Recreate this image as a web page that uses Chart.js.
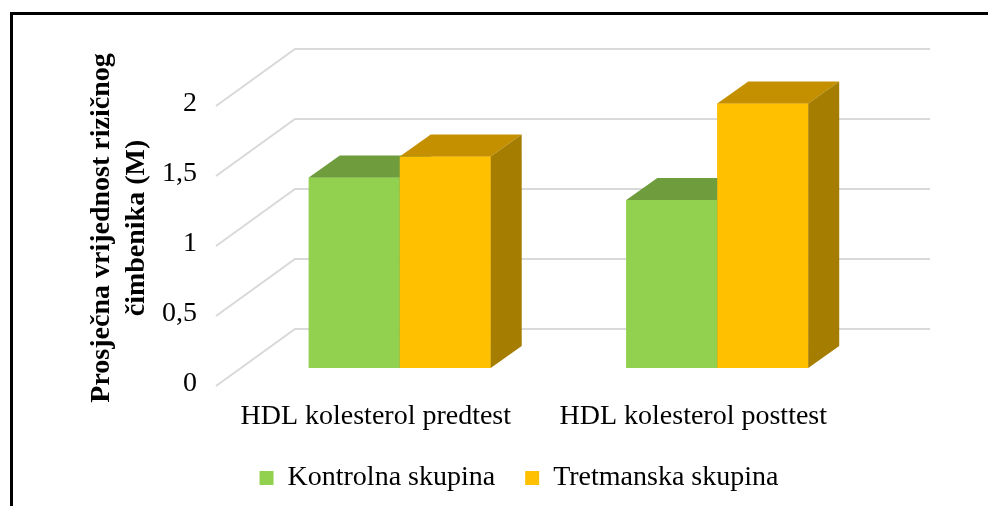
<!DOCTYPE html>
<html>
<head>
<meta charset="utf-8">
<script src="https://cdn.jsdelivr.net/npm/chart.js@4.4.0/dist/chart.umd.min.js"></script>
<style>
  html, body { margin: 0; padding: 0; background: #fff; }
  #wrap { position: relative; width: 988px; height: 506px; overflow: hidden; }
  #frame { position: absolute; left: 10px; top: 12px; width: 1100px; height: 600px;
           border-left: 3px solid #000; border-top: 3px solid #000; }
  #chart { position: absolute; left: 0; top: 0; }
</style>
</head>
<body>
<div id="wrap">
  <canvas id="chart" width="988" height="506"></canvas>
  <div id="frame"></div>
</div>
<script>
const categories = ['HDL kolesterol predtest', 'HDL kolesterol posttest'];
const kontrolna = [1.36, 1.20];
const tretmanska = [1.51, 1.89];
const seriesNames = ['Kontrolna skupina', 'Tretmanska skupina'];
const yTicks = [0, 0.5, 1, 1.5, 2];
const yTitle = ['Prosječna vrijednost rizičnog', 'čimbenika (M)'];

const serif = '"Liberation Serif", "Times New Roman", serif';

// oblique 3D offsets (px): bar depth, floor front edge, back wall
const depth = { barX: 31, barY: -22, frontX: -25, frontY: 18, backX: 54, backY: -39 };

function fillPoly(ctx, pts, color) {
  ctx.beginPath();
  ctx.moveTo(pts[0][0], pts[0][1]);
  for (let i = 1; i < pts.length; i++) ctx.lineTo(pts[i][0], pts[i][1]);
  ctx.closePath();
  ctx.fillStyle = color;
  ctx.fill();
}

// side wall + back wall grid lines
const wallsPlugin = {
  id: 'walls',
  beforeDatasetsDraw(chart) {
    const { ctx, chartArea, scales: { y } } = chart;
    ctx.save();
    ctx.strokeStyle = '#d9d9d9';
    ctx.lineWidth = 2;
    y.ticks.forEach(t => {
      const py = y.getPixelForValue(t.value);
      ctx.beginPath();
      ctx.moveTo(chartArea.left + depth.frontX, py + depth.frontY);
      ctx.lineTo(chartArea.left + depth.backX, py + depth.backY);
      ctx.lineTo(chartArea.right + depth.backX, py + depth.backY);
      ctx.stroke();
    });
    ctx.restore();
  }
};

// top and side faces, drawn per category so the occlusion is right
const boxPlugin = {
  id: 'box3d',
  afterDatasetsDraw(chart) {
    const { ctx } = chart;
    const dx = depth.barX, dy = depth.barY;
    ctx.save();
    chart.data.labels.forEach((lbl, i) => {
      chart.data.datasets.forEach((ds, d) => {
        const bar = chart.getDatasetMeta(d).data[i];
        const { x, y, base, width } = bar.getProps(['x', 'y', 'base', 'width'], true);
        const l = x - width / 2, r = x + width / 2;
        fillPoly(ctx, [[l, y], [r, y], [r, base], [l, base]], ds.backgroundColor);
        fillPoly(ctx, [[l, y], [r, y], [r + dx, y + dy], [l + dx, y + dy]], ds.topColor);
        fillPoly(ctx, [[r, y], [r + dx, y + dy], [r + dx, base + dy], [r, base]], ds.sideColor);
      });
    });
    ctx.restore();
  }
};

new Chart(document.getElementById('chart'), {
  type: 'bar',
  data: {
    labels: categories,
    datasets: [
      {
        label: seriesNames[0],
        data: kontrolna,
        backgroundColor: '#92d050',
        topColor: '#6f9c3c',
        sideColor: '#5d8531',
        barPercentage: 1,
        categoryPercentage: 0.573
      },
      {
        label: seriesNames[1],
        data: tretmanska,
        backgroundColor: '#ffc000',
        topColor: '#c49000',
        sideColor: '#a57d00',
        barPercentage: 1,
        categoryPercentage: 0.573
      }
    ]
  },
  options: {
    responsive: false,
    animation: false,
    devicePixelRatio: 1,
    layout: { padding: { left: 162, right: 112, top: 88, bottom: 4 } },
    plugins: {
      tooltip: { enabled: false },
      legend: {
        position: 'bottom',
        labels: {
          boxWidth: 14,
          boxHeight: 14,
          padding: 30,
          color: '#000',
          font: { family: serif, size: 28 }
        }
      }
    },
    scales: {
      x: {
        grid: { display: false, drawTicks: false },
        border: { display: false },
        ticks: {
          color: '#000',
          font: { family: serif, size: 28 },
          labelOffset: -24,
          padding: 32,
          maxRotation: 0,
          autoSkip: false
        },
        afterFit(scale) { scale.height = 66; }
      },
      y: {
        min: 0,
        max: 2,
        grid: { display: false, drawTicks: false },
        border: { display: false },
        afterBuildTicks(scale) { scale.ticks = yTicks.map(v => ({ value: v })); },
        ticks: {
          color: '#000',
          font: { family: serif, size: 28 },
          labelOffset: 16,
          padding: 44,
          callback: v => String(v).replace('.', ',')
        },
        title: {
          display: true,
          text: yTitle,
          color: '#000',
          font: { family: serif, size: 28, weight: 'bold', lineHeight: 1.25 },
          padding: { top: -78, bottom: 0 }
        },
        afterFit(scale) { scale.width = 79; }
      }
    }
  },
  plugins: [wallsPlugin, boxPlugin]
});
</script>
</body>
</html>
